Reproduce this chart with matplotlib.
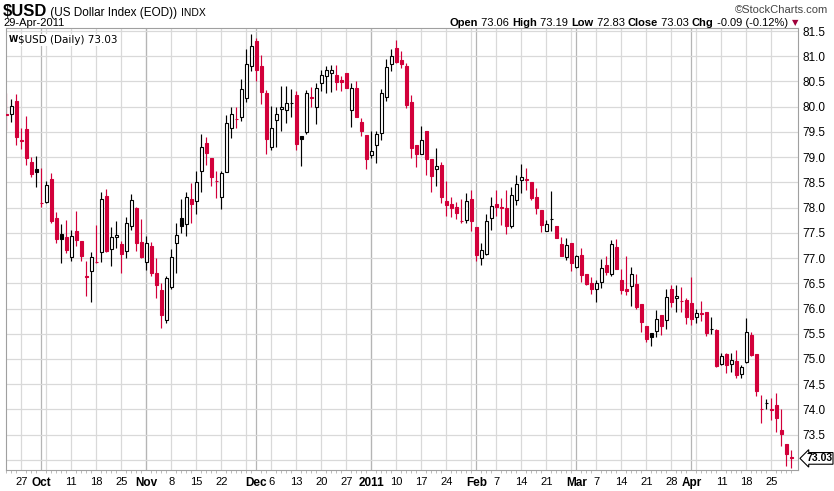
import numpy as np
import pandas as pd
import matplotlib
matplotlib.use('Agg')
from matplotlib import pyplot as plt

plt.rcParams['font.family'] = ['Liberation Sans', 'DejaVu Sans']

#Daily bars, every weekday from 22-Sep-2010 to 29-Apr-2011
dates = pd.bdate_range('2010-09-22', '2011-04-29')

opens = [
    79.86, 79.85, 80.11, 79.34, 79.55, 78.90, 78.77, 78.10, 78.11, 78.57,
    77.80, 77.48, 77.42, 77.02, 77.54, 77.34, 76.64, 76.74, 76.93, 77.12,
    78.23, 77.18, 77.42, 77.28, 77.14, 77.63, 78.00, 77.31, 76.93, 77.23,
    76.70, 76.36, 75.77, 76.42, 77.30, 77.80, 77.68, 78.18, 78.14, 78.73,
    79.29, 78.98, 78.53, 78.22, 78.71, 79.58, 79.76, 79.79, 80.17, 80.80,
    81.30, 80.81, 80.28, 79.20, 79.73, 79.95, 79.93, 80.08, 80.24, 79.41,
    79.50, 80.19, 80.00, 80.47, 80.60, 80.66, 80.63, 80.52, 80.67, 79.94,
    80.37, 79.70, 79.44, 79.05, 79.25, 79.48, 80.19, 80.84, 81.17, 80.93,
    80.80, 80.10, 79.24, 79.07, 79.51, 78.96, 78.76, 78.84, 78.14, 78.07,
    78.01, 77.74, 77.76, 78.18, 77.62, 77.00, 77.08, 77.79, 78.08, 78.01,
    78.00, 77.64, 78.15, 78.55, 78.57, 78.51, 78.22, 77.96, 77.54, 77.78,
    77.64, 77.27, 77.02, 77.29, 76.83, 77.06, 76.69, 76.51, 76.38, 76.53,
    76.87, 76.68, 77.22, 76.57, 76.39, 76.45, 76.49, 76.09, 75.66, 75.52,
    75.56, 75.87, 75.77, 76.39, 76.21, 76.15, 76.17, 76.10, 75.83, 75.91,
    75.93, 75.60, 75.58, 74.91, 75.09, 74.91, 74.97, 74.71, 74.95, 75.47,
    75.09, 74.01, 74.12, 74.00, 74.08, 73.59, 73.32, 73.06]
highs = [
    80.28, 80.16, 80.26, 79.57, 79.81, 79.00, 79.02, 78.78, 78.52, 78.68,
    77.92, 77.68, 77.76, 77.55, 77.94, 77.34, 76.95, 77.13, 77.65, 78.31,
    78.37, 77.61, 77.73, 77.34, 77.82, 78.27, 78.01, 77.77, 77.43, 77.31,
    77.00, 76.50, 76.64, 77.18, 77.69, 78.18, 78.31, 78.48, 78.72, 79.46,
    79.39, 78.98, 78.73, 78.73, 79.83, 79.99, 80.00, 80.54, 81.14, 81.44,
    81.36, 81.02, 80.33, 80.01, 80.00, 80.41, 80.41, 80.35, 80.31, 79.41,
    80.34, 80.39, 80.47, 80.73, 80.80, 80.82, 80.83, 80.60, 80.67, 80.47,
    80.51, 79.78, 79.44, 79.52, 79.52, 80.35, 80.95, 81.15, 81.33, 81.11,
    80.86, 80.24, 79.24, 79.61, 79.51, 78.96, 79.18, 78.91, 78.52, 78.22,
    78.11, 78.17, 78.28, 78.34, 77.62, 77.30, 77.87, 78.22, 78.35, 78.19,
    78.35, 78.40, 78.65, 78.87, 78.78, 78.51, 78.38, 77.96, 77.76, 78.33,
    77.64, 77.42, 77.39, 77.29, 77.07, 77.20, 76.69, 76.62, 76.56, 76.99,
    77.05, 77.35, 77.38, 76.78, 77.05, 76.82, 76.69, 76.09, 75.66, 75.52,
    75.98, 75.87, 76.39, 76.47, 76.46, 76.43, 76.20, 76.62, 76.00, 76.15,
    75.93, 75.84, 75.60, 75.11, 75.11, 75.11, 75.18, 74.89, 75.82, 75.54,
    75.09, 74.29, 74.21, 74.22, 74.33, 74.00, 73.32, 73.19]
lows = [
    79.54, 79.70, 79.24, 79.16, 78.85, 78.60, 78.40, 78.02, 78.09, 77.69,
    77.30, 76.90, 77.11, 76.95, 77.23, 76.95, 76.24, 76.12, 76.90, 76.92,
    77.12, 76.84, 77.20, 76.70, 77.01, 77.56, 77.15, 77.01, 76.77, 76.64,
    76.21, 75.62, 75.72, 76.38, 76.71, 77.49, 77.44, 77.70, 77.87, 78.30,
    78.85, 78.43, 78.20, 77.98, 78.70, 79.38, 79.58, 79.71, 80.10, 80.70,
    80.51, 80.06, 79.06, 79.15, 79.20, 79.52, 79.68, 79.80, 79.14, 78.83,
    79.45, 79.99, 79.65, 80.31, 80.27, 80.30, 80.33, 80.31, 80.37, 79.60,
    79.79, 79.42, 78.77, 78.98, 78.89, 79.35, 80.12, 80.70, 80.86, 80.76,
    79.98, 78.99, 78.81, 79.07, 78.64, 78.31, 78.43, 78.10, 77.84, 77.82,
    77.77, 77.69, 77.69, 77.53, 76.94, 76.86, 77.06, 77.56, 77.83, 77.66,
    77.48, 77.59, 78.05, 78.29, 78.35, 78.16, 77.87, 77.51, 77.54, 77.54,
    77.39, 77.04, 76.97, 76.74, 76.81, 76.53, 76.46, 76.28, 76.12, 76.41,
    76.66, 76.64, 76.78, 76.29, 76.26, 76.06, 76.00, 75.54, 75.34, 75.26,
    75.44, 75.47, 75.60, 76.03, 75.93, 75.93, 75.70, 75.68, 75.71, 75.75,
    75.46, 75.50, 74.85, 74.88, 74.73, 74.75, 74.63, 74.63, 74.93, 75.05,
    74.27, 73.74, 74.00, 73.79, 73.56, 73.27, 72.87, 72.83]
closes = [
    79.84, 80.01, 79.39, 79.32, 78.99, 78.67, 78.71, 78.09, 78.44, 77.73,
    77.37, 77.38, 77.17, 77.44, 77.35, 77.05, 76.63, 77.02, 76.92, 78.17,
    77.15, 77.42, 77.46, 77.09, 77.69, 78.15, 77.29, 77.02, 77.29, 76.71,
    76.47, 75.88, 76.60, 77.03, 77.45, 77.64, 78.22, 78.07, 78.51, 79.21,
    79.08, 78.61, 78.52, 78.69, 79.68, 79.85, 79.75, 80.35, 80.84, 81.20,
    80.72, 80.30, 79.37, 79.58, 79.85, 79.99, 80.07, 80.07, 79.27, 79.36,
    80.28, 80.18, 80.37, 80.62, 80.72, 80.73, 80.49, 80.48, 80.37, 80.38,
    79.79, 79.52, 78.96, 79.13, 79.45, 80.28, 80.79, 81.01, 80.89, 80.84,
    80.03, 79.19, 79.06, 79.35, 78.96, 78.63, 78.83, 78.21, 78.06, 77.99,
    77.90, 77.73, 78.14, 77.73, 77.06, 77.17, 77.74, 78.03, 78.01, 77.99,
    77.64, 78.25, 78.46, 78.60, 78.54, 78.20, 78.00, 77.66, 77.68, 77.77,
    77.39, 77.04, 77.26, 76.90, 77.05, 76.67, 76.49, 76.39, 76.51, 76.80,
    76.72, 77.28, 76.78, 76.36, 76.34, 76.69, 76.04, 75.73, 75.39, 75.43,
    75.80, 75.66, 76.23, 76.13, 76.25, 76.14, 75.84, 75.80, 75.92, 75.90,
    75.52, 75.59, 74.86, 75.06, 74.88, 74.99, 74.69, 74.85, 75.53, 75.08,
    74.37, 74.00, 74.13, 73.99, 73.84, 73.52, 73.12, 73.03]

#x axis labels (date of the grid line they sit on)
tick_dates = ['2010-09-27', '2010-10-01', '2010-10-11', '2010-10-18', '2010-10-25',
              '2010-11-01', '2010-11-08', '2010-11-15', '2010-11-22', '2010-12-01',
              '2010-12-06', '2010-12-13', '2010-12-20', '2010-12-27', '2011-01-03',
              '2011-01-10', '2011-01-17', '2011-01-24', '2011-02-01', '2011-02-07',
              '2011-02-14', '2011-02-21', '2011-03-01', '2011-03-07', '2011-03-14',
              '2011-03-21', '2011-03-28', '2011-04-01', '2011-04-11', '2011-04-18',
              '2011-04-25']
tick_labels = ['27', 'Oct', '11', '18', '25', 'Nov', '8', '15', '22', 'Dec', '6', '13',
               '20', '27', '2011', '10', '17', '24', 'Feb', '7', '14', '21', 'Mar', '7',
               '14', '21', '28', 'Apr', '11', '18', '25']
month_labels = ['Oct', 'Nov', 'Dec', '2011', 'Feb', 'Mar', 'Apr']
y_ticks = np.arange(73.5, 81.51, 0.5)

RED = '#d2003a'
W, H = 834, 491

O = np.array(opens); Hi = np.array(highs); L = np.array(lows); C = np.array(closes)
n = len(dates)
x = np.arange(n)
prev = np.r_[C[0] + 1, C[:-1]]
col = np.where(C >= prev, 'black', RED)
face = np.where(C < O, col, 'white')

fig = plt.figure(figsize=(W / 100, H / 100), dpi=100)
ax = fig.add_axes([5.7 / W, 21 / H, (798.5 - 5.7) / W, (470 - 28) / H])

#grid: weekly lines light, month lines darker
mondays = [i for i, d in enumerate(dates) if d.weekday() == 0]
month_first = [i for i in range(1, n) if dates[i].month != dates[i - 1].month]
ax.vlines(mondays, 72, 82, colors='#d9d9d9', lw=0.9, zorder=0)
ax.vlines(month_first, 72, 82, colors='#b5b5b5', lw=0.9, zorder=0)
ax.hlines(np.arange(73.0, 81.51, 0.5), -5, n + 5, colors='#d9d9d9', lw=0.9, zorder=0)

#candles
ax.vlines(x, L, Hi, colors=col, lw=0.85, zorder=2)
ax.bar(x, np.abs(C - O), bottom=np.minimum(O, C), width=0.72, color=face,
       edgecolor=col, linewidth=0.8, zorder=3)

ax.set_xlim(-0.12, 158.4)
ax.set_ylim(72.8, 81.56)
for s in ax.spines.values():
    s.set_color('#a0a0a0')
    s.set_linewidth(0.8)

ax.yaxis.tick_right()
ax.set_yticks(y_ticks)
ax.set_yticklabels(['%.1f' % v for v in y_ticks], fontsize=8.5)
ax.tick_params(axis='y', length=0, pad=3)

pos = [dates.get_loc(pd.Timestamp(d)) for d in tick_dates]
ax.set_xticks(pos)
ax.set_xticklabels(tick_labels, fontsize=8)
for t in ax.get_xticklabels():
    if t.get_text() in month_labels:
        t.set_fontweight('bold')
        t.set_fontsize(8.5)
ax.set_xticks(x, minor=True)
ax.tick_params(axis='x', which='major', length=0, pad=5)
ax.tick_params(axis='x', which='minor', length=2, color='#b0b0b0', width=0.6)

#last price tag
ax.text(1.0095, C[-1], '%.2f' % C[-1], transform=ax.get_yaxis_transform(),
        ha='left', va='center', fontsize=7.5, fontweight='bold',
        bbox=dict(boxstyle='larrow,pad=0.08', fc='white', ec='black', lw=0.8))

#legend line in the plot
ax.text(0.016, 0.985, '$USD (Daily) %.2f' % C[-1], transform=ax.transAxes,
        ha='left', va='top', fontsize=7.5, family='DejaVu Sans',
        bbox=dict(boxstyle='square,pad=0.1', fc='white', ec='none'))
ax.text(0.004, 0.985, 'W', transform=ax.transAxes, ha='left', va='top',
        fontsize=6, fontweight='bold', family='DejaVu Sans')

#header
renderer = fig.canvas.get_renderer()

def chain(x0, y0, parts):
    xp = x0
    for s, kw in parts:
        t = fig.text(xp / W, 1 - y0 / H, s, ha='left', va='baseline', **kw)
        xp += t.get_window_extent(renderer=renderer).width
    return xp

chain(3, 16, [('$USD', dict(fontsize=12, fontweight='bold')),
              (' (US Dollar Index (EOD)) ', dict(fontsize=8.5)),
              ('INDX', dict(fontsize=7.5))])
fig.text(3 / W, 1 - 25.5 / H, dates[-1].strftime('%d-%b-%Y'), fontsize=8, va='baseline')
fig.text(828 / W, 1 - 13 / H, '\u00a9StockCharts.com', fontsize=8, color='#444444',
         ha='right', va='baseline')

chg = C[-1] - C[-2]
pieces = [('Open', True), (' %.2f ' % O[-1], False), ('High', True), (' %.2f ' % Hi[-1], False),
          ('Low', True), (' %.2f ' % L[-1], False), ('Close', True), (' %.2f ' % C[-1], False),
          ('Chg', True), (' %.2f (%.2f%%)' % (chg, chg / C[-2] * 100), False)]
parts = [(s, dict(fontsize=8, fontweight='bold' if b else 'normal')) for s, b in pieces]
end = chain(450, 25.5, parts)
fig.text((end + 4) / W, 1 - 25.5 / H, '\u25bc', fontsize=6, color='#a0003a', va='baseline',
         family='DejaVu Sans')

fig.savefig('out.png', dpi=100)
